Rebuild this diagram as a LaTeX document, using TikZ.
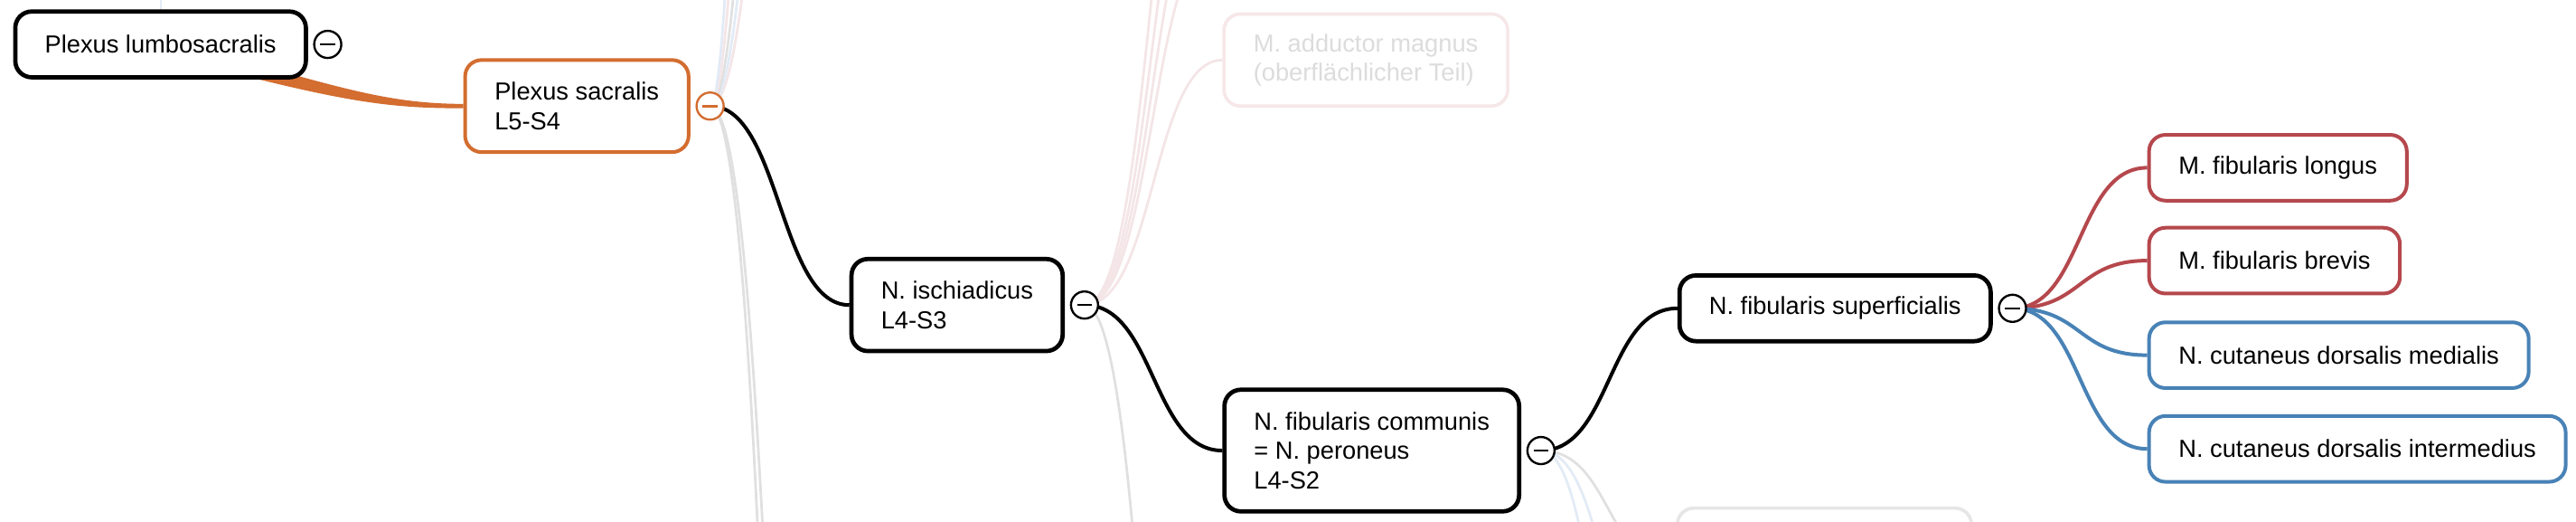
\documentclass[tikz,border=0pt]{standalone}
\usepackage{fontspec}
\setmainfont{Liberation Sans}
\usetikzlibrary{calc}
\pgfdeclarelayer{bg}
\pgfsetlayers{bg,main}
\definecolor{cOrange}{RGB}{211,109,48}
\definecolor{cRed}{RGB}{181,72,77}
\definecolor{cBlue}{RGB}{72,130,182}
\definecolor{fGray}{RGB}{224,224,224}
\definecolor{fPink}{RGB}{244,229,231}
\definecolor{fBlue}{RGB}{226,235,246}
\definecolor{fGrayB}{RGB}{230,230,230}
\definecolor{fPinkB}{RGB}{246,231,233}
\definecolor{fText}{RGB}{220,220,220}
\tikzset{
  mm/.style={rounded corners=10pt, fill=white, inner xsep=18pt, inner ysep=3pt,
    align=left, anchor=west, font=\fontsize{15}{18}\selectfont},
  nlone/.style={minimum height=40pt},
  nltwo/.style={minimum height=56pt},
  nlthree/.style={minimum height=74pt},
  boxk/.style={mm, draw=black, line width=2.6pt},
  boxo/.style={mm, draw=cOrange, line width=2.2pt},
  boxr/.style={mm, draw=cRed, line width=2.2pt},
  boxb/.style={mm, draw=cBlue, line width=2.2pt},
  boxf/.style={mm, draw=fPinkB, line width=2pt, text=fText},
  boxg/.style={mm, draw=fGrayB, line width=2pt},
  tog/.style={circle, draw=black, fill=white, line width=1.3pt, minimum size=16.5pt,
    inner sep=0pt, text=black},
  hl/.style={to path={.. controls +(43,0) and +(-43,0) .. (\tikztotarget)}},
  lk/.style={hl, line width=2.2pt},
  fk/.style={hl, line width=1.5pt},
}
\begin{document}
\begin{tikzpicture}[x=1pt,y=-1pt]
\useasboundingbox (0,0) rectangle (1568,317);

% boxes
\node[boxk, nlone] (lumbo) at (8,27) {Plexus lumbosacralis};
\node[boxo, nltwo] (sacr) at (282,64.5) {Plexus sacralis\\L5-S4};
\node[boxk, nltwo] (isch) at (517,185.5) {N. ischiadicus\\L4-S3};
\node[boxk, nlthree] (comm) at (744,274) {N. fibularis communis\\= N. peroneus\\L4-S2};
\node[boxk, nlone] (sup) at (1021,187.5) {N. fibularis superficialis};
\node[boxr, nlone] (l1) at (1307,102) {M. fibularis longus};
\node[boxr, nlone] (l2) at (1307,158.5) {M. fibularis brevis};
\node[boxb, nlone] (l3) at (1307,216) {N. cutaneus dorsalis medialis};
\node[boxb, nlone] (l4) at (1307,273) {N. cutaneus dorsalis intermedius};
\node[boxf, nltwo] (add) at (744,36.5) {M. adductor magnus\\(oberflächlicher Teil)};
\node[boxg, minimum width=179pt, minimum height=72pt] (fb) at (1020,345) {};

% toggles
\node[tog] (tlumbo) at ($(lumbo.east)+(12,0)$) {\rule{9pt}{1.4pt}};
\node[tog, draw=cOrange, text=cOrange] (tsacr) at ($(sacr.east)+(12,0)$) {\rule{9pt}{1.4pt}};
\node[tog] (tisch) at ($(isch.east)+(12,0)$) {\rule{9pt}{1.4pt}};
\node[tog] (tcomm) at ($(comm.east)+(12,0)$) {\rule{9pt}{1.4pt}};
\node[tog] (tsup) at ($(sup.east)+(12,0)$) {\rule{9pt}{1.4pt}};

% off-canvas ends of faint links
\coordinate (lbtop) at ($(lumbo.center)+(0,-300)$);
\coordinate (su1) at (516,-700);
\coordinate (su2) at (516,-1000);
\coordinate (su3) at (516,-1500);
\coordinate (su4) at (516,-2500);
\coordinate (su5) at (516,-4000);
\coordinate (sd1) at (516,1000);
\coordinate (sd2) at (516,1250);
\coordinate (iu1) at (743,-40);
\coordinate (iu2) at (743,-80);
\coordinate (iu3) at (743,-130);
\coordinate (iu4) at (743,-200);
\coordinate (id1) at (743,786);
\coordinate (cd1) at (1020,437);
\coordinate (cd2) at (1020,617);

\begin{pgfonlayer}{bg}
  \fill[white] (0,0) rectangle (1568,317);
  \clip (0,0) rectangle (1568,317);
  % faint links
  \draw[fBlue, line width=1.2pt] (lbtop) -- (lumbo.center);
  \draw[fk, fPink] (tsacr.center) to (su1);
  \draw[fk, fBlue] (tsacr.center) to (su2);
  \draw[fk, fGray] (tsacr.center) to (su3);
  \draw[fk, fPink] (tsacr.center) to (su4);
  \draw[fk, fBlue] (tsacr.center) to (su5);
  \draw[fk, fGray] (tsacr.center) to (sd1);
  \draw[fk, fGray] (tsacr.center) to (sd2);
  \draw[fk, fPink] (tisch.center) to (iu1);
  \draw[fk, fPink] (tisch.center) to (iu2);
  \draw[fk, fPink] (tisch.center) to (iu3);
  \draw[fk, fPink] (tisch.center) to (iu4);
  \draw[fk, fPink] (tisch.center) to (add.west);
  \draw[fk, fGray] (tisch.center) to (id1);
  \draw[fk, fGray] (tcomm.center) to (fb.west);
  \draw[fk, fBlue] (tcomm.center) to (cd1);
  \draw[fk, fBlue] (tcomm.center) to (cd2);
  % root link (tapered)
  \fill[cOrange] ($(lumbo.center)+(0,-4)$)
     .. controls ($(lumbo.center)+(105,24.5)$) and ($(sacr.west)+(-51,-1.5)$) .. ($(sacr.west)+(0,-1.3)$)
     -- ($(sacr.west)+(0,1.3)$)
     .. controls ($(sacr.west)+(-51,1.5)$) and ($(lumbo.center)+(105,33.5)$) .. ($(lumbo.center)+(0,6)$)
     -- cycle;
  % links
  \draw[lk, black] (tsacr.center) to (isch.west);
  \draw[lk, black] (tisch.center) to (comm.west);
  \draw[lk, black] (tcomm.center) to (sup.west);
  \draw[lk, cRed] (tsup.center) to (l1.west);
  \draw[lk, cRed] (tsup.center) to (l2.west);
  \draw[lk, cBlue] (tsup.center) to (l3.west);
  \draw[lk, cBlue] (tsup.center) to (l4.west);
\end{pgfonlayer}
\end{tikzpicture}
\end{document}
